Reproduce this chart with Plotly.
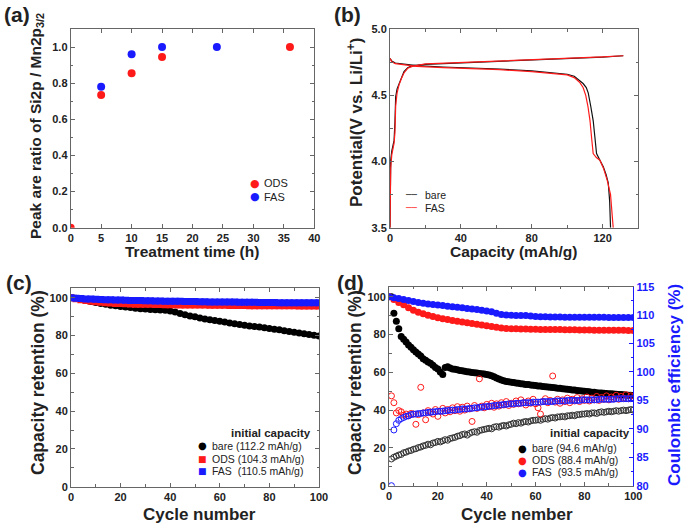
import plotly.graph_objects as go

FONT = "Liberation Sans, Arial, sans-serif"
W, H = 685, 526
BLUE = "#1a1aff"
RED = "#ff1a1a"

# (a) XPS peak ratio vs treatment time
a_ods_time = [0, 5, 10, 15, 36]
a_ods_ratio = [0.0, 0.735, 0.855, 0.945, 1.0]
a_fas_time = [5, 10, 15, 24]
a_fas_ratio = [0.78, 0.96, 1.0, 1.0]

# (b) charge / discharge curves
charge_cap = [0, 0.2, 0.4, 1.0, 1.6, 2.3, 2.8, 3.2, 4.0, 5.1, 6.5, 7.9, 10, 12.6, 20, 40, 60, 80, 100, 120, 131.7]
bare_charge_v = [3.5, 3.85, 4.01, 4.08, 4.12, 4.16, 4.3, 4.49, 4.55, 4.59, 4.64, 4.68, 4.71, 4.725,
                 4.735, 4.745, 4.755, 4.765, 4.775, 4.79, 4.80]
fas_charge_v = [3.5, 3.8, 3.95, 4.05, 4.1, 4.14, 4.22, 4.42, 4.52, 4.58, 4.63, 4.67, 4.705, 4.72,
                4.738, 4.748, 4.758, 4.768, 4.778, 4.792, 4.80]
bare_dis_cap = [0, 1, 3, 8, 15, 30, 50, 62, 80, 95, 100, 104, 107, 109, 110.8, 111.9, 113.3, 114.7,
                115.7, 116.6, 118.5, 120.4, 122, 123.2, 124, 124.5]
bare_dis_v = [4.78, 4.76, 4.745, 4.735, 4.725, 4.715, 4.705, 4.70, 4.685, 4.67, 4.66, 4.645, 4.615,
              4.59, 4.56, 4.52, 4.42, 4.31, 4.18, 4.06, 4.01, 3.96, 3.9, 3.84, 3.7, 3.5]
fas_dis_cap = [0, 1, 3, 8, 15, 30, 50, 62, 80, 95, 100, 104, 107, 109, 110.5, 111.7, 112.9, 113.8,
               114.7, 116.5, 118.5, 120.5, 122.6, 124.5, 125.5, 126]
fas_dis_v = [4.78, 4.755, 4.74, 4.73, 4.72, 4.71, 4.70, 4.695, 4.68, 4.665, 4.655, 4.635, 4.60, 4.56,
             4.5, 4.42, 4.31, 4.18, 4.06, 4.03, 4.01, 3.95, 3.86, 3.75, 3.6, 3.5]

# (c) capacity retention, every 2nd cycle
c_cycle = list(range(0, 101, 2))
c_bare = [100, 99.7, 99.2, 98.6, 98.0, 97.5, 97.0, 96.5, 96.0, 95.7,
          95.4, 95.1, 94.8, 94.5, 94.2, 94.0, 93.8, 93.6, 93.5, 93.4,
          93.0, 92.4, 91.7, 91.0, 90.4, 89.9, 89.3, 88.8, 88.3, 87.9,
          87.5, 87.1, 86.7, 86.3, 85.8, 85.4, 85.1, 84.8, 84.5, 84.1,
          83.7, 83.3, 83.0, 82.6, 82.2, 81.8, 81.4, 81.0, 80.6, 80.2, 79.7]
c_ods = [100, 99.5, 99.0, 98.6, 98.2, 97.9, 97.6, 97.4, 97.2, 97.0,
         96.9, 96.8, 96.7, 96.6, 96.6, 96.5, 96.5, 96.4, 96.4, 96.3,
         96.3, 96.3, 96.2, 96.2, 96.2, 96.1, 96.1, 96.1, 96.0, 96.0,
         96.0, 96.0, 95.9, 95.9, 95.9, 95.9, 95.8, 95.8, 95.8, 95.8,
         95.8, 95.7, 95.7, 95.7, 95.7, 95.7, 95.6, 95.6, 95.6, 95.6, 95.6]
c_fas = [100, 99.8, 99.6, 99.4, 99.3, 99.2, 99.1, 99.0, 98.9, 98.8,
         98.8, 98.7, 98.6, 98.6, 98.5, 98.4, 98.4, 98.3, 98.3, 98.2,
         98.2, 98.1, 98.1, 98.0, 98.0, 98.0, 97.9, 97.9, 97.8, 97.8,
         97.8, 97.7, 97.7, 97.7, 97.6, 97.6, 97.6, 97.6, 97.5, 97.5,
         97.5, 97.5, 97.4, 97.4, 97.4, 97.4, 97.3, 97.3, 97.3, 97.3, 97.3]
c_labels = ["bare (112.2 mAh/g)", "ODS (104.3 mAh/g)", "FAS  (110.5 mAh/g)"]

# (d) retention (left axis) and coulombic efficiency (right axis)
d_cycle2 = list(range(0, 101, 2))
d_ods_ret = [100, 98.5, 97.0, 95.7, 94.2, 92.8, 91.8, 91.0, 90.2, 89.5,
             88.9, 88.4, 87.9, 87.4, 87.0, 86.6, 86.2, 85.8, 85.4, 85.0,
             84.6, 84.2, 83.8, 83.4, 83.2, 83.1, 83.0, 82.9, 82.9, 82.8,
             82.8, 82.7, 82.7, 82.6, 82.6, 82.6, 82.5, 82.5, 82.5, 82.4,
             82.4, 82.4, 82.3, 82.3, 82.3, 82.2, 82.2, 82.2, 82.2, 82.1, 82.1]
d_fas_ret = [100, 99.5, 99.0, 98.5, 98.0, 97.5, 97.0, 96.6, 96.2, 95.9,
             95.6, 95.3, 95.0, 94.7, 94.4, 94.1, 93.8, 93.5, 93.2, 92.9,
             92.5, 92.0, 91.3, 90.6, 90.3, 90.2, 90.1, 90.0, 90.0, 89.8,
             89.5, 89.4, 89.4, 89.3, 89.3, 89.3, 89.2, 89.2, 89.2, 89.2,
             89.1, 89.1, 89.1, 89.1, 89.1, 89.0, 89.0, 89.0, 89.0, 89.0, 89.0]
d_cycle = list(range(1, 101))
d_bare_ret = [100, 91.2, 87.0, 83.0, 79.0, 77.5, 76.0, 74.5, 73.2, 72.0,
              70.8, 69.7, 68.6, 67.2, 66.4, 65.5, 64.8, 63.8, 62.6, 61.8,
              60.2, 58.8, 62.5, 63.0, 62.3, 61.8, 61.6, 61.3, 61.0, 60.8,
              60.6, 60.3, 60.1, 59.9, 59.8, 59.6, 59.4, 59.3, 59.1, 58.9,
              58.6, 58.2, 57.6, 57.0, 56.4, 55.9, 55.5, 55.2, 55.0, 54.8,
              54.6, 54.4, 54.2, 54.0, 53.8, 53.6, 53.5, 53.3, 53.1, 53.0,
              52.8, 52.7, 52.5, 52.4, 52.2, 52.1, 51.9, 51.8, 51.6, 51.5,
              51.3, 51.2, 51.0, 50.9, 50.7, 50.6, 50.4, 50.3, 50.1, 50.0,
              49.8, 49.7, 49.5, 49.4, 49.2, 49.1, 49.0, 48.9, 48.8, 48.7,
              48.6, 48.5, 48.4, 48.3, 48.2, 48.1, 48.0, 47.9, 47.8, 47.7]
d_bare_ce = [84.7, 85.0, 85.2, 85.4, 85.5, 85.8, 85.9, 86.1, 86.2, 86.4,
             86.5, 86.7, 86.8, 87.0, 87.1, 87.3, 87.2, 87.5, 87.6, 87.8,
             87.7, 87.9, 88.1, 88.0, 88.3, 88.4, 88.5, 88.7, 88.8, 89.0,
             89.1, 88.9, 89.2, 89.4, 89.5, 89.4, 89.7, 89.8, 89.9, 90.0,
             90.1, 90.0, 90.3, 90.4, 90.3, 90.5, 90.6, 90.5, 90.7, 90.8,
             91.0, 90.9, 91.1, 91.0, 91.2, 91.3, 91.2, 91.4, 91.5, 91.5,
             91.6, 91.5, 91.7, 91.8, 91.7, 91.9, 92.0, 91.9, 92.1, 92.1,
             92.2, 92.1, 92.3, 92.3, 92.4, 92.3, 92.5, 92.5, 92.6, 92.6,
             92.7, 92.6, 92.8, 92.8, 92.7, 92.9, 93.0, 92.9, 93.0, 93.1,
             93.0, 93.1, 93.2, 93.1, 93.2, 93.3, 93.2, 93.3, 93.4, 93.3]
d_ods_ce = [95.8, 94.6, 92.8, 93.2, 93.0, 92.4, 92.6, 92.3, 92.7, 92.6,
            90.8, 92.5, 97.3, 92.8, 91.6, 93.2, 92.9, 92.6, 93.4, 92.2,
            93.1, 93.6, 92.8, 93.4, 93.0, 93.7, 93.2, 93.9, 93.1, 93.8,
            93.3, 94.0, 93.5, 91.3, 94.1, 93.6, 98.8, 94.0, 93.7, 94.3,
            93.9, 94.5, 93.8, 94.4, 94.0, 94.6, 94.2, 94.8, 94.1, 94.5,
            94.3, 94.9, 94.4, 95.1, 94.6, 94.2, 94.9, 94.5, 95.2, 94.4,
            93.7, 92.6, 94.8, 95.3, 94.6, 95.0, 99.3, 94.7, 95.2, 94.5,
            95.1, 94.8, 95.4, 94.6, 95.2, 94.9, 95.5, 94.8, 95.3, 95.0,
            95.6, 94.9, 95.4, 95.1, 95.7, 95.0, 95.5, 95.2, 95.8, 95.1,
            95.6, 95.3, 95.9, 95.2, 95.7, 95.4, 96.0, 95.3, 95.8, 95.5]
d_fas_ce = [80.0, 89.8, 90.9, 91.5, 91.8, 92.0, 92.2, 92.3, 92.5, 92.6,
            92.6, 92.7, 92.7, 92.8, 92.8, 92.9, 92.9, 93.0, 93.0, 93.1,
            93.1, 93.1, 93.2, 93.2, 93.3, 93.3, 93.3, 93.4, 93.4, 93.5,
            93.5, 93.5, 93.6, 93.6, 93.7, 93.7, 93.8, 93.8, 93.9, 93.9,
            94.0, 94.0, 94.1, 94.1, 94.2, 94.2, 94.3, 94.3, 94.4, 94.4,
            94.4, 94.5, 94.5, 94.5, 94.6, 94.6, 94.6, 94.6, 94.7, 94.7,
            94.7, 94.7, 94.8, 94.8, 94.8, 94.8, 94.8, 94.9, 94.9, 94.9,
            94.9, 94.9, 95.0, 95.0, 95.0, 95.0, 95.0, 95.0, 95.1, 95.1,
            95.1, 95.1, 95.1, 95.1, 95.1, 95.2, 95.2, 95.2, 95.2, 95.2,
            95.2, 95.2, 95.3, 95.3, 95.3, 95.3, 95.3, 95.3, 95.3, 95.3]
d_labels = ["bare (94.6 mAh/g)", "ODS (88.4 mAh/g)", "FAS  (93.5 mAh/g)"]


def px(x, y):
    return x / W, 1 - y / H


def axis(**kw):
    base = dict(showline=True, linecolor="#666", linewidth=1, mirror="ticks", ticks="inside",
                ticklen=4, tickcolor="#666", showgrid=False, zeroline=False,
                tickfont=dict(family=FONT, size=11, color="#222", weight="bold"))
    base.update(kw)
    return base


def minor(dt, color="#666"):
    return dict(ticks="inside", ticklen=2.5, tickcolor=color, dtick=dt, showgrid=False)


fig = go.Figure()

# (a)
fig.add_trace(go.Scatter(x=a_ods_time, y=a_ods_ratio, mode="markers", name="ODS",
                         marker=dict(color=RED, size=8), xaxis="x", yaxis="y"))
fig.add_trace(go.Scatter(x=a_fas_time, y=a_fas_ratio, mode="markers", name="FAS",
                         marker=dict(color=BLUE, size=8), xaxis="x", yaxis="y"))

# (b)
fig.add_trace(go.Scatter(x=charge_cap, y=bare_charge_v, mode="lines", name="bare",
                         line=dict(color="#111", width=1.2), xaxis="x2", yaxis="y2"))
fig.add_trace(go.Scatter(x=bare_dis_cap, y=bare_dis_v, mode="lines",
                         line=dict(color="#111", width=1.2), xaxis="x2", yaxis="y2"))
fig.add_trace(go.Scatter(x=charge_cap, y=fas_charge_v, mode="lines", name="FAS",
                         line=dict(color=RED, width=1.2), xaxis="x2", yaxis="y2"))
fig.add_trace(go.Scatter(x=fas_dis_cap, y=fas_dis_v, mode="lines",
                         line=dict(color=RED, width=1.2), xaxis="x2", yaxis="y2"))

# (c)
for vals, col, sym, lab in [(c_bare, "#000", "circle", c_labels[0]),
                            (c_ods, RED, "square", c_labels[1]),
                            (c_fas, BLUE, "square", c_labels[2])]:
    fig.add_trace(go.Scatter(x=c_cycle, y=vals, mode="markers", name=lab,
                             marker=dict(color=col, size=7, symbol=sym), xaxis="x3", yaxis="y3"))

# (d) coulombic efficiency (open circles, right axis)
for vals, col in [(d_bare_ce, "#333"), (d_ods_ce, RED), (d_fas_ce, BLUE)]:
    fig.add_trace(go.Scatter(x=d_cycle, y=vals, mode="markers",
                             marker=dict(color=col, size=6, symbol="circle-open",
                                         line=dict(color=col, width=1)),
                             xaxis="x4", yaxis="y5"))
# (d) retention
fig.add_trace(go.Scatter(x=d_cycle, y=d_bare_ret, mode="markers", name=d_labels[0],
                         marker=dict(color="#000", size=7), xaxis="x4", yaxis="y4"))
fig.add_trace(go.Scatter(x=d_cycle2, y=d_ods_ret, mode="markers", name=d_labels[1],
                         marker=dict(color=RED, size=7), xaxis="x4", yaxis="y4"))
fig.add_trace(go.Scatter(x=d_cycle2, y=d_fas_ret, mode="markers", name=d_labels[2],
                         marker=dict(color=BLUE, size=7), xaxis="x4", yaxis="y4"))


def title(text, x, y, size=16, angle=0, color="#222"):
    ax, ay = px(x, y)
    return dict(text=text, x=ax, y=ay, xref="paper", yref="paper", showarrow=False,
                textangle=angle, xanchor="center", yanchor="middle",
                font=dict(family=FONT, size=size, color=color, weight="bold"))


def key(glyph, color, x, y, size=11):
    ax, ay = px(x, y)
    return dict(text=glyph, x=ax, y=ay, xref="paper", yref="paper", showarrow=False,
                xanchor="center", yanchor="middle",
                font=dict(family="DejaVu Sans, sans-serif", size=size, color=color))


def label(text, x, y, size=10.5):
    ax, ay = px(x, y)
    return dict(text=text, x=ax, y=ay, xref="paper", yref="paper", showarrow=False,
                xanchor="left", yanchor="middle",
                font=dict(family=FONT, size=size, color="#222"))


legend_notes = [
    key("●", RED, 255, 183), label("ODS", 262, 183, 11),
    key("●", BLUE, 255, 197), label("FAS", 262, 197, 11),
    key("──", "#111", 411, 195, 9), label("bare", 423, 195, 10.5),
    key("──", RED, 411, 208, 9), label("FAS", 423, 208, 10.5),
    key("●", "#000", 202, 445.5, 10), label(c_labels[0], 210, 445.5),
    key("■", RED, 202, 459, 9), label(c_labels[1], 210, 459),
    key("■", BLUE, 202, 471, 9), label(c_labels[2], 210, 471),
    key("●", "#000", 522, 448, 10), label(d_labels[0], 530, 448),
    key("●", RED, 522, 460, 10), label(d_labels[1], 530, 460),
    key("●", BLUE, 522, 472, 10), label(d_labels[2], 530, 472),
]

fig.update_layout(
    width=W, height=H, margin=dict(l=0, r=0, t=0, b=0, autoexpand=False),
    paper_bgcolor="white", plot_bgcolor="white", showlegend=False,
    xaxis=axis(domain=[70.7 / W, 314.3 / W], range=[0, 40], dtick=5, anchor="y"),
    yaxis=axis(domain=[1 - 227.7 / H, 1 - 29 / H], range=[0, 1.1], dtick=0.2, tickformat=".1f",
               minor=minor(0.1), anchor="x"),
    xaxis2=axis(domain=[390 / W, 638 / W], range=[0, 140], dtick=40, minor=minor(20), anchor="y2"),
    yaxis2=axis(domain=[1 - 227.7 / H, 1 - 29.3 / H], range=[3.5, 5.0], dtick=0.5, tickformat=".1f",
                minor=minor(0.25), anchor="x2"),
    xaxis3=axis(domain=[71 / W, 319 / W], range=[0, 100], dtick=20, minor=minor(10), anchor="y3"),
    yaxis3=axis(domain=[1 - 486.7 / H, 1 - 288.3 / H], range=[0, 105], dtick=20, minor=minor(10),
                anchor="x3"),
    xaxis4=axis(domain=[389 / W, 633.3 / W], range=[0, 100], dtick=20, minor=minor(10), anchor="y4"),
    yaxis4=axis(domain=[1 - 485.7 / H, 1 - 286.7 / H], range=[0, 105.3], dtick=20, minor=minor(10),
                mirror=False, anchor="x4"),
    yaxis5=axis(overlaying="y4", side="right", anchor="x4", range=[80, 115], dtick=5,
                minor=minor(2.5, BLUE), mirror=False, linecolor=BLUE, tickcolor=BLUE,
                tickfont=dict(family=FONT, size=11, color=BLUE, weight="bold")),
    annotations=[
        title("(a)", 17, 15, 21), title("(b)", 347, 15, 21),
        title("(c)", 19, 282, 21), title("(d)", 350, 282, 21),
        title("Treatment time (h)", 192, 251.5, 15.5),
        title("Capacity (mAh/g)", 513, 251.5, 15.5),
        title("Cycle number", 200, 514, 17),
        title("Cycle nember", 517, 514, 17),
        title("Peak are ratio of Si2p / Mn2p<sub>3/2</sub>", 37, 126, 15.5, -90),
        title("Potential(V vs. Li/Li<sup>+</sup>)", 355, 123, 17, -90),
        title("Capacity retention (%)", 38, 383, 17.5, -90),
        title("Capacity retention (%)", 355, 383, 17.5, -90),
        title("Coulombic efficiency (%)", 674, 385, 17, -90, BLUE),
        title("initial capacity", 271, 433, 11.5),
        title("initial capacity", 590, 433, 11.5),
    ] + legend_notes,
)

fig.write_html("out.html", config={"displayModeBar": False},
               post_script="document.body.style.margin='0px';")
